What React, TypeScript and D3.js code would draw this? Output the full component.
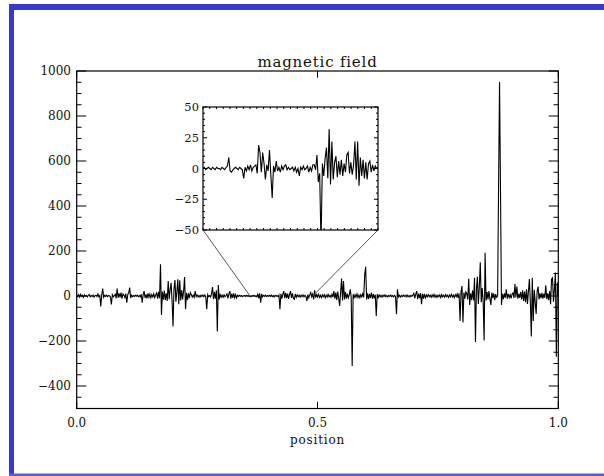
import React from "react";
import * as d3 from "d3";

// ---- data ----
const title = "magnetic field";
const xLabel = "position";
const xTicks = [0, 0.5, 1.0];
const yTickLabels = [1000, 800, 600, 400, 200, 0, -200, -400];
const insetYTicks = [50, 25, 0, -25, -50];
const insetRange = [0.36, 0.49];

// main series, 501 samples evenly spread over position 0..1
const mainA = [
  4, -3, 6, -5, 8, -2, 3, -6, 5, -1,
  2, -4, 3, 7, -3, 2, -2, 4, -5, 1,
  3, -2, 9, -4, 2, -47, 5, 33, -6, 3,
  -2, 4, -3, 2, 1, -4, -37, 6, -3, 2,
  8, -10, 33, -8, 12, -6, 15, -12, 9, 4,
  -7, 11, -30, 6, 14, 37, -9, 4, -3, 2,
  -2, 3, -1, 4, -3, 2, -4, 8, -30, 6,
  22, -9, 7, -11, 12, -5, 9, -8, 6, -4,
  10, -7, 5, 14, -12, 18, -10, 141, -84, 20,
  -16, 24, -18, 12, -22, 67, -14, 28, 59, -20,
];
const mainB = [
  -136, 30, 71, -25, 18, 74, -37, 70, -20, 26,
  -15, 22, 84, -59, 14, -18, 12, -10, 15, 6,
  -5, 4, -6, 22, -3, 5, -4, 2, -5, 3,
  -2, 4, -3, 5, -4, -59, 6, -3, 2, -4,
  10, 40, -14, 18, -12, 25, -158, 49, -15, 6,
  -5, 4, -6, 5, -3, 2, 9, -11, 8, 22,
  -12, 10, -8, 12, -7, 6, -9, 3, -2, 3,
  -1, 2, -3, 1, 2, -2, 3, -1, 2, -2,
  1, -3, 2, -1, 3, -2, 1, -3, 8, -10,
  12, -30, 9, -4, 3, -2, 4, -3, 2, -1,
];
const mainC = [
  3, -2, 4, -3, 2, -4, 3, -1, 2, -3,
  4, -59, 10, -12, 8, 22, -10, 14, -9, 11,
  -13, 7, 22, -8, 12, -11, -15, 9, -6, 5,
  -3, 4, -5, 3, -2, 5, -4, 3, -2, -22,
  6, -8, 5, 15, -4, 8, -15, 25, -7, 6,
  -5, 8, -6, 4, -7, 5, -3, 6, -8, 4,
  -5, 7, -4, 3, -6, 8, -5, 22, -12, 15,
  -18, 20, -10, -44, 16, 78, -20, 67, -15, 18,
  -12, 10, -8, 5, 30, -6, -311, 8, -10, 6,
  -5, 9, -7, 4, -8, 6, -4, 10, -6, 96,
];
const mainD = [
  130, -15, 12, -14, 10, -9, 15, -12, 8, -10,
  6, -89, 8, -7, 5, -4, 3, -5, 4, -2,
  5, -3, 2, -4, 3, -2, 4, -3, 2, -4,
  3, -2, -81, 30, -4, 3, -5, 2, -3, 4,
  -2, 3, -4, 5, -3, 2, -4, 3, -2, 4,
  12, -10, 8, 22, -14, 11, -9, 13, -37, 10,
  -12, 9, -8, 5, -4, 6, -3, 4, -6, 5,
  -4, 7, -5, 3, -6, 4, -3, 5, -7, 6,
  -4, 3, -5, 6, -3, 4, -6, 5, -4, 7,
  -5, 4, -7, 6, -3, 9, -8, 12, -111, 20,
];
const mainE = [
  44, -118, 15, -12, 18, 10, -15, 77, -40, 12,
  -18, 25, -20, 81, -204, 30, 86, -35, 40, 150,
  -28, 35, -25, -198, 192, -20, 18, -15, 22, -12,
  -40, 15, -10, 12, -18, 8, -6, 0, 490, 952,
  470, -40, 10, -14, 12, -8, 30, -12, 9, -7,
  6, -10, 8, 14, -9, 53, -6, 42, -12, 10,
  -8, 18, -15, 25, -22, 20, -28, 30, -35, 22,
  75, -30, -180, 81, -111, 28, -25, -80, 20, 42,
  -15, 12, -10, 14, -12, 10, -8, 48, -14, 12,
  -18, 22, -37, 75, 81, -25, 30, 104, -270, 60, 5,
];
const mainValues = [...mainA, ...mainB, ...mainC, ...mainD, ...mainE];

// inset detail series over position 0.36..0.49
const insetA = [
  0, 1, -1, 0, 1, 0, -1, 1, 0, -1, 1, 0, 0, -1, 1, 0, -1, 1,
  2, 9, -2, -3, -1, 0, 1, 0, -1, 1, 0, -1,
  -8, 1, -2, 2, -1, 3, -2, 1, 2, 3,
];
const insetB = [
  -4, 19, 13, -3, 13, 4, -9, 3, -2, 15, -5, -24, 2, -3, 6, -2, 1, -3, 2, -1, 2, 3, -1,
  1, -1, 0, 1, -2, 1, -3, 0, -6, 1, -1, 2, -1, 0,
];
const insetC = [
  2, -3, 1, -2, 3, 3, -1, 11,
  -11, -4, -62, 4, -6, 8, 17, -8, 32, -13, 22, -9, 5, 10, -7,
  6, -5, 7, -6, 4, -3,
  11, 13, -4, 5, -5, 3, 22, -9, 22, -14, 9, -6, 7, -8, 5, -9, 4, 6, -3, 3, -2, 2, 0, 1,
];
const insetValues = [...insetA, ...insetB, ...insetC];

// ---- layout ----
const W = 604;
const H = 476;
const font = "'DejaVu Serif', serif";

export default function App() {
  const x = d3.scaleLinear().domain([0, 1]).range([76.7, 558.3]);
  const y = d3.scaleLinear().domain([-500, 1000]).range([408.5, 71]);

  const ix = d3.scaleLinear().domain(insetRange).range([203, 378]);
  const iy = d3.scaleLinear().domain([-50, 50]).range([230, 107]);

  const mainPts: [number, number][] = mainValues.map((v, i) => [i / (mainValues.length - 1), v]);
  const insetPts: [number, number][] = insetValues.map((v, i) => [
    insetRange[0] + (i * (insetRange[1] - insetRange[0])) / (insetValues.length - 1),
    v,
  ]);

  const mainLine = d3.line<[number, number]>().x((d) => x(d[0])).y((d) => y(d[1]));
  const insetLine = d3.line<[number, number]>().x((d) => ix(d[0])).y((d) => iy(d[1]));

  const [x0, x1] = x.range();
  const [yb, yt] = y.range();
  const yMinor = d3.range(-500, 1001, 50);
  const [ix0, ix1] = ix.range();
  const [iyb, iyt] = iy.range();
  const insetYMinor = d3.range(-50, 51, 5);
  const insetXMinor = d3.range(0, 27).map((k) => insetRange[0] + k * 0.005);

  return (
    <svg
      width={W}
      height={H}
      style={{ position: "absolute", left: 0, top: 0, background: "#fff" }}
      fontFamily={font}
    >
      <defs>
        <clipPath id="mainClip">
          <rect x={x0} y={yt} width={x1 - x0} height={yb - yt} />
        </clipPath>
        <clipPath id="insetClip">
          <rect x={ix0} y={iyt} width={ix1 - ix0} height={iyb - iyt} />
        </clipPath>
      </defs>
      <rect x={0} y={0} width={W} height={H} fill="#fff" />
      {/* window frame */}
      <rect x={9} y={4} width={W - 9} height={6} fill="#3838cc" />
      <rect x={9} y={4} width={5} height={H - 4} fill="#3838cc" />
      <rect x={9} y={H - 2.5} width={W - 9} height={2.5} fill="#5a5ad6" />

      {/* title */}
      <text x={(x0 + x1) / 2} y={67} textAnchor="middle" fontSize={15} letterSpacing={0.8} fill="#111">
        {title}
      </text>

      {/* main data */}
      <path
        d={mainLine(mainPts) || ""}
        fill="none"
        stroke="#000"
        strokeWidth={1.1}
        strokeLinejoin="miter"
        clipPath="url(#mainClip)"
      />

      {/* main axes box */}
      <rect x={x0} y={yt} width={x1 - x0} height={yb - yt} fill="none" stroke="#000" strokeWidth={1.2} />

      {/* y ticks */}
      {yMinor.map((v) => {
        const major = v % 200 === 0;
        const len = major ? 9.6 : 4.8;
        const yy = y(v);
        return (
          <g key={"yt" + v}>
            <line x1={x0} x2={x0 + len} y1={yy} y2={yy} stroke="#000" strokeWidth={1} />
            <line x1={x1} x2={x1 - len} y1={yy} y2={yy} stroke="#000" strokeWidth={1} />
          </g>
        );
      })}
      {yTickLabels.map((v) => (
        <text key={"yl" + v} x={71} y={y(v) + 4.3} textAnchor="end" fontSize={12} fill="#111">
          {v < 0 ? "\u2212" + Math.abs(v) : String(v)}
        </text>
      ))}

      {/* x ticks */}
      {xTicks.map((v) => (
        <g key={"xt" + v}>
          <line x1={x(v)} x2={x(v)} y1={yb} y2={yb - 6.7} stroke="#000" strokeWidth={1} />
          <line x1={x(v)} x2={x(v)} y1={yt} y2={yt + 6.7} stroke="#000" strokeWidth={1} />
          <text x={x(v)} y={427} textAnchor="middle" fontSize={12} fill="#111">
            {v.toFixed(1)}
          </text>
        </g>
      ))}
      <text x={(x0 + x1) / 2} y={444} textAnchor="middle" fontSize={12} letterSpacing={0.8} fill="#111">
        {xLabel}
      </text>

      {/* connecting lines */}
      <line x1={ix0} y1={iyb} x2={x(insetRange[0])} y2={y(0)} stroke="#555" strokeWidth={1} />
      <line x1={ix1} y1={iyb} x2={x(insetRange[1])} y2={y(0)} stroke="#555" strokeWidth={1} />

      {/* inset */}
      <rect x={ix0} y={iyt} width={ix1 - ix0} height={iyb - iyt} fill="#fff" />
      <path
        d={insetLine(insetPts) || ""}
        fill="none"
        stroke="#000"
        strokeWidth={1.1}
        clipPath="url(#insetClip)"
      />
      <rect x={ix0} y={iyt} width={ix1 - ix0} height={iyb - iyt} fill="none" stroke="#000" strokeWidth={1.2} />
      {insetYMinor.map((v) => {
        const major = v % 25 === 0;
        const len = major ? 4 : 2;
        const yy = iy(v);
        return (
          <g key={"iyt" + v}>
            <line x1={ix0} x2={ix0 + len} y1={yy} y2={yy} stroke="#000" strokeWidth={1} />
            <line x1={ix1} x2={ix1 - len} y1={yy} y2={yy} stroke="#000" strokeWidth={1} />
          </g>
        );
      })}
      {insetXMinor.map((v, k) => (
        <g key={"ixt" + k}>
          <line x1={ix(v)} x2={ix(v)} y1={iyt} y2={iyt + 2} stroke="#000" strokeWidth={1} />
          <line x1={ix(v)} x2={ix(v)} y1={iyb} y2={iyb - 2} stroke="#000" strokeWidth={1} />
        </g>
      ))}
      {insetYTicks.map((v) => (
        <text key={"iyl" + v} x={199} y={iy(v) + 4} textAnchor="end" fontSize={11.5} fill="#111">
          {v < 0 ? "\u2212" + Math.abs(v) : String(v)}
        </text>
      ))}
    </svg>
  );
}
